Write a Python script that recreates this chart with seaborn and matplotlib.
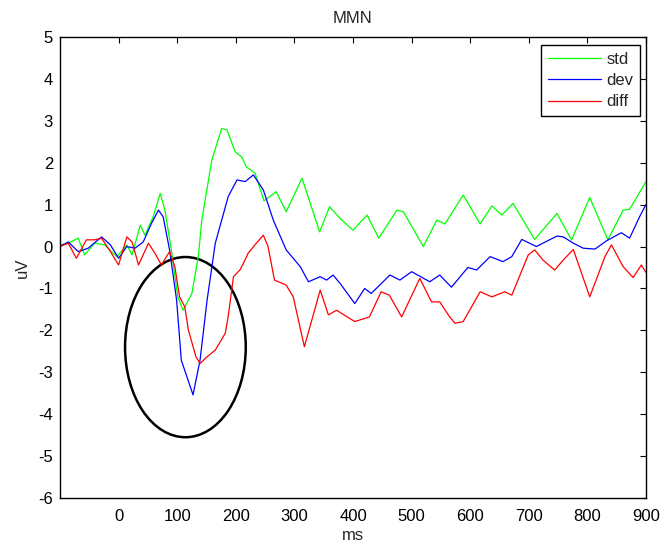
import numpy as np
import pandas as pd
import matplotlib
matplotlib.use("Agg")
import matplotlib.pyplot as plt
from matplotlib.patches import Ellipse
import seaborn as sns

# ---- data ----
std_ms = [-100, -86, -69, -58, -41, -24, -3, 14, 23, 37, 45, 59, 71, 79, 90, 101, 110, 125, 136, 142,
          159, 176, 185, 199, 210, 218, 233, 248, 269, 286, 313, 343, 360, 378, 400, 424, 444, 475, 486, 520,
          543, 557, 588, 617, 637, 654, 673, 710, 748, 773, 804, 835, 861, 872, 900]
std_uv = [0.04, 0.08, 0.2, -0.2, 0.08, 0.04, -0.24, 0.04, -0.2, 0.51, 0.27, 0.71, 1.27, 0.87, -0.08, -1.2, -1.52, -1.12, -0.24, 0.63,
          2.06, 2.82, 2.78, 2.26, 2.14, 1.9, 1.75, 1.09, 1.31, 0.83, 1.63, 0.35, 0.95, 0.67, 0.39, 0.75, 0.2, 0.87, 0.83, 0.0,
          0.63, 0.54, 1.23, 0.54, 0.97, 0.75, 1.03, 0.17, 0.79, 0.16, 1.17, 0.16, 0.87, 0.89, 1.55]

dev_ms = [-100, -86, -69, -52, -29, -14, 0, 14, 28, 42, 56, 68, 76, 87, 99, 107, 127, 139, 151, 165,
          187, 202, 216, 230, 247, 264, 286, 310, 324, 344, 355, 366, 378, 403, 420, 431, 463, 480, 500, 531,
          548, 568, 596, 611, 634, 656, 671, 688, 713, 748, 759, 776, 793, 813, 833, 858, 872, 889, 898, 900]
dev_uv = [0.0, 0.11, -0.12, -0.04, 0.23, 0.04, -0.28, 0.0, -0.04, 0.11, 0.55, 0.87, 0.71, -0.08, -1.28, -2.71, -3.54, -2.71, -1.28, 0.08,
          1.19, 1.59, 1.55, 1.71, 1.35, 0.63, -0.08, -0.48, -0.84, -0.72, -0.8, -0.68, -0.88, -1.36, -1.0, -1.12, -0.68, -0.8, -0.6, -0.84,
          -0.68, -0.97, -0.5, -0.56, -0.24, -0.36, -0.24, 0.17, 0.0, 0.25, 0.23, 0.08, -0.04, -0.06, 0.14, 0.33, 0.2, 0.71, 0.95, 1.0]

diff_ms = [-100, -86, -72, -55, -41, -29, -14, 0, 14, 23, 34, 51, 62, 73, 87, 96, 104, 113, 119, 132,
           139, 151, 165, 182, 187, 196, 207, 213, 221, 235, 247, 255, 266, 286, 298, 317, 344, 358, 372, 403,
           428, 448, 462, 483, 514, 534, 548, 565, 574, 588, 617, 637, 659, 671, 685, 699, 710, 724, 744, 759,
           776, 804, 830, 841, 861, 878, 892, 900]
diff_uv = [0.0, 0.08, -0.28, 0.16, 0.16, 0.2, -0.12, -0.44, 0.23, 0.11, -0.44, 0.08, -0.16, -0.44, -0.12, -0.48, -1.2, -1.44, -1.99, -2.63,
           -2.79, -2.63, -2.47, -2.07, -1.67, -0.72, -0.56, -0.4, -0.16, 0.08, 0.27, 0.0, -0.8, -0.92, -1.2, -2.39, -1.04, -1.63, -1.52, -1.79,
           -1.68, -1.08, -1.16, -1.68, -0.76, -1.32, -1.32, -1.68, -1.83, -1.79, -1.08, -1.2, -1.08, -1.16, -0.68, -0.2, -0.08, -0.32, -0.56, -0.32,
           -0.07, -1.2, -0.24, 0.04, -0.48, -0.74, -0.44, -0.62]

series_names = ["std", "dev", "diff"]
series_colors = ["#00ff00", "#0000ff", "#ff0000"]
x_ticks = [0, 100, 200, 300, 400, 500, 600, 700, 800, 900]
y_ticks = [-6, -5, -4, -3, -2, -1, 0, 1, 2, 3, 4, 5]

# ellipse annotation (center, width, height in data units)
ell_center = (114, -2.4)
ell_width = 206
ell_height = 4.3

df = pd.concat([
    pd.DataFrame({"ms": std_ms, "uV": std_uv, "cond": "std"}),
    pd.DataFrame({"ms": dev_ms, "uV": dev_uv, "cond": "dev"}),
    pd.DataFrame({"ms": diff_ms, "uV": diff_uv, "cond": "diff"}),
], ignore_index=True)

sns.set_theme(style="white")
plt.rcParams["font.family"] = ["Liberation Sans", "DejaVu Sans"]
plt.rcParams["font.size"] = 12

fig = plt.figure(figsize=(6.61, 5.45), dpi=100)
ax = fig.add_axes([60 / 661, 1 - 498 / 545, 586 / 661, 461 / 545])

sns.lineplot(data=df, x="ms", y="uV", hue="cond", hue_order=series_names,
             palette=series_colors, sort=False, estimator=None, linewidth=0.9, ax=ax)

ax.add_patch(Ellipse(ell_center, ell_width, ell_height, fill=False,
                     edgecolor="black", linewidth=1.8))

ax.set_xlim(-100, 900)
ax.set_ylim(-6, 5)
ax.set_xticks(x_ticks)
ax.set_yticks(y_ticks)
ax.set_xticklabels([str(t) for t in x_ticks])
ax.set_yticklabels([str(t) for t in y_ticks])
ax.tick_params(direction="in", top=True, right=True, length=4, width=0.8,
               labelsize=12, colors="black")
ax.tick_params(axis="x", pad=8)
ax.tick_params(axis="y", pad=5)
for s in ax.spines.values():
    s.set_visible(True)
    s.set_color("black")
    s.set_linewidth(1.0)

ax.set_title("MMN", fontsize=12, pad=10)
ax.set_xlabel("ms", fontsize=12, labelpad=3)
ax.set_ylabel("uV", fontsize=12, labelpad=6)

leg = ax.legend(loc="upper right", bbox_to_anchor=(0.9898, 0.9826), borderaxespad=0,
                frameon=True, fancybox=False, edgecolor="black", framealpha=1,
                handlelength=3.2, handletextpad=0.3, fontsize=12, labelspacing=0.38,
                borderpad=0.4)
leg.get_frame().set_linewidth(1.0)
for line in leg.get_lines():
    line.set_linewidth(0.9)

fig.savefig("out.png", dpi=100)
